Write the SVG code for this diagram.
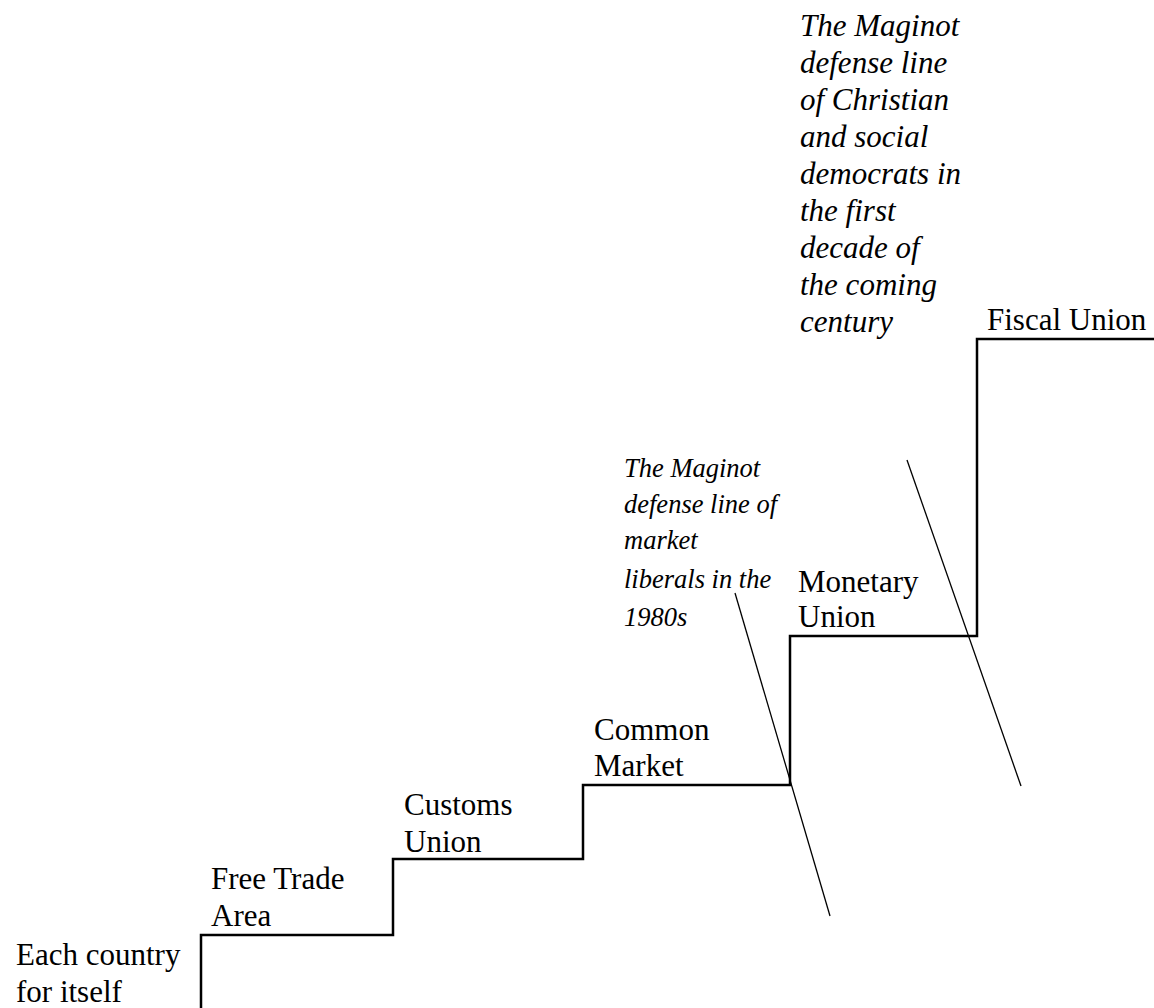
<svg xmlns="http://www.w3.org/2000/svg" width="1154" height="1008" viewBox="0 0 1154 1008">
<style>
.lbl{font-family:"Liberation Serif","Times New Roman",serif;font-size:31px;fill:#000}
.it{font-style:italic}
.sm{font-size:26.5px}
.stair{fill:none;stroke:#000;stroke-width:2.5;stroke-linejoin:miter}
.div{fill:none;stroke:#000;stroke-width:1.3}
</style>
<rect width="1154" height="1008" fill="#fff"/>
<g id="connectors">
<path id="staircase" class="stair" d="M201,1008 V935 H393 V859 H583 V785 H790 V636 H977 V339 H1154"/>
<line id="line1980s" class="div" x1="735" y1="593" x2="830" y2="916"/>
<line id="lineCentury" class="div" x1="907" y1="460" x2="1021" y2="786"/>
</g>
<g id="each-country"><text class="lbl" x="16" y="965">Each country</text><text class="lbl" x="16" y="1002">for itself</text></g>
<g id="free-trade"><text class="lbl" x="211" y="889">Free Trade</text><text class="lbl" x="211" y="926">Area</text></g>
<g id="customs-union"><text class="lbl" x="404" y="815">Customs</text><text class="lbl" x="404" y="852">Union</text></g>
<g id="common-market"><text class="lbl" x="594" y="740">Common</text><text class="lbl" x="594" y="776">Market</text></g>
<g id="monetary-union"><text class="lbl" x="798" y="592">Monetary</text><text class="lbl" x="798" y="627">Union</text></g>
<g id="fiscal-union"><text class="lbl" x="987" y="330">Fiscal Union</text></g>
<g id="note-1980s">
<text class="lbl it sm" x="624" y="477">The Maginot</text>
<text class="lbl it sm" x="624" y="513">defense line of</text>
<text class="lbl it sm" x="624" y="549">market</text>
<text class="lbl it sm" x="624" y="588">liberals in the</text>
<text class="lbl it sm" x="624" y="626">1980s</text>
</g>
<g id="note-century">
<text class="lbl it" x="800" y="36">The Maginot</text>
<text class="lbl it" x="800" y="73">defense line</text>
<text class="lbl it" x="800" y="110">of Christian</text>
<text class="lbl it" x="800" y="147">and social</text>
<text class="lbl it" x="800" y="184">democrats in</text>
<text class="lbl it" x="800" y="221">the first</text>
<text class="lbl it" x="800" y="258">decade of</text>
<text class="lbl it" x="800" y="295">the coming</text>
<text class="lbl it" x="800" y="332">century</text>
</g>
</svg>
